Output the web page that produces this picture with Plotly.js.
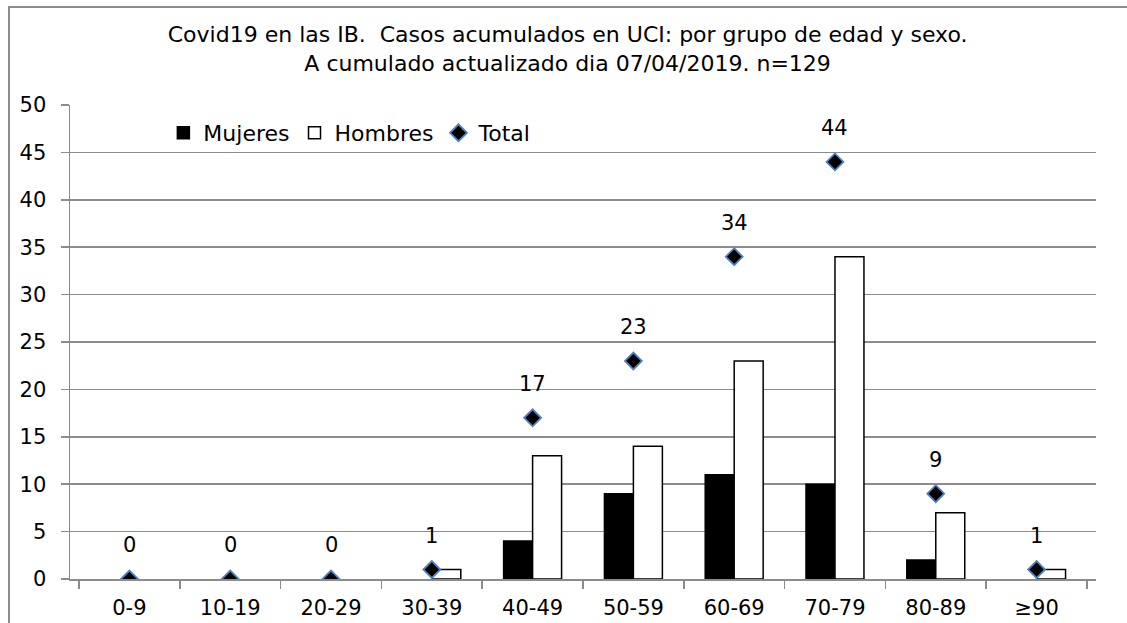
<!DOCTYPE html>
<html>
<head>
<meta charset="utf-8">
<script src="https://cdn.plot.ly/plotly-3.0.1.min.js"></script>
<style>
  html, body { margin: 0; padding: 0; background: #fff; overflow: hidden; width: 1127px; height: 623px; }
  #chart { position: absolute; left: 0; top: 0; width: 1127px; height: 623px; }
  #frame { position: absolute; left: 8px; top: 6px; width: 1119px; height: 617px; border-top: 2px solid #8c8c8c; border-left: 2px solid #8c8c8c; pointer-events: none; box-sizing: border-box; }
</style>
</head>
<body>
<div id="chart"></div>
<div id="frame"></div>
<script>
const categories = ["0-9", "10-19", "20-29", "30-39", "40-49", "50-59", "60-69", "70-79", "80-89", "≥90"];
const mujeres = [0, 0, 0, 0, 4, 9, 11, 10, 2, 0];
const hombres = [0, 0, 0, 1, 13, 14, 23, 34, 7, 1];
const total   = [0, 0, 0, 1, 17, 23, 34, 44, 9, 1];
const titleLines = [
  "Covid19 en las IB.  Casos acumulados en UCI: por grupo de edad y sexo.",
  "A cumulado actualizado dia 07/04/2019. n=129"
];

const FONT = "DejaVu Sans, sans-serif";
const FS = 21;

// zero-height bars are not drawn (no outline on the axis)
const hideZero = v => (v === 0 ? null : v);

const traces = [
  {
    type: "bar", name: "Mujeres", x: categories, y: mujeres.map(hideZero),
    marker: { color: "#000000", line: { color: "#000000", width: 1.5 } },
    hoverinfo: "skip"
  },
  {
    type: "bar", name: "Hombres", x: categories, y: hombres.map(hideZero),
    marker: { color: "#ffffff", line: { color: "#000000", width: 1.5 } },
    hoverinfo: "skip"
  },
  {
    type: "scatter", mode: "markers", name: "Total", x: categories, y: total,
    marker: { symbol: "diamond", size: 13, color: "#000000", line: { color: "#4f81bd", width: 1.8 } },
    hoverinfo: "skip"
  }
];

const annotations = categories.map((c, i) => ({
  x: c, y: total[i], xref: "x", yref: "y",
  text: String(total[i]), showarrow: false,
  yshift: 34, yanchor: "middle",
  font: { family: FONT, size: FS, color: "#000" }
}));

const layout = {
  width: 1127, height: 623,
  margin: { l: 70, r: 31, t: 105, b: 44 },
  paper_bgcolor: "rgba(0,0,0,0)", plot_bgcolor: "rgba(0,0,0,0)",
  font: { family: FONT, size: FS, color: "#000" },
  title: {
    text: titleLines.join("<br>"),
    font: { family: FONT, size: 22, color: "#000" },
    xref: "paper", x: 0.485, xanchor: "center",
    yref: "container", y: 0.932, yanchor: "top",
    automargin: false
  },
  barmode: "group", bargap: 0.425, bargroupgap: 0,
  xaxis: {
    type: "category", tickson: "boundaries", ticks: "outside", ticklen: 8, tickwidth: 1.5, tickcolor: "#8c8c8c",
    showline: true, linecolor: "#8c8c8c", linewidth: 1.5, showgrid: false, zeroline: false,
    ticklabelstandoff: 9,
    tickfont: { family: FONT, size: FS, color: "#000" }, fixedrange: true
  },
  yaxis: {
    range: [0, 50], tickvals: [0,5,10,15,20,25,30,35,40,45,50], ticks: "outside", ticklen: 8, tickwidth: 1.5, tickcolor: "#8c8c8c",
    showline: true, linecolor: "#8c8c8c", linewidth: 1.5,
    showgrid: true, gridcolor: "#8c8c8c", gridwidth: 1.5, zeroline: false,
    ticklabelstandoff: 10,
    tickfont: { family: FONT, size: FS, color: "#000" }, fixedrange: true
  },
  legend: {
    orientation: "h", x: 0.091, xanchor: "left", y: 0.941, yanchor: "middle",
    bgcolor: "rgba(255,255,255,0)", font: { family: FONT, size: 22, color: "#000" },
    tracegroupgap: 0
  },
  annotations: annotations,
  showlegend: true
};

Plotly.newPlot("chart", traces, layout, { displayModeBar: false, staticPlot: true });
</script>
</body>
</html>
